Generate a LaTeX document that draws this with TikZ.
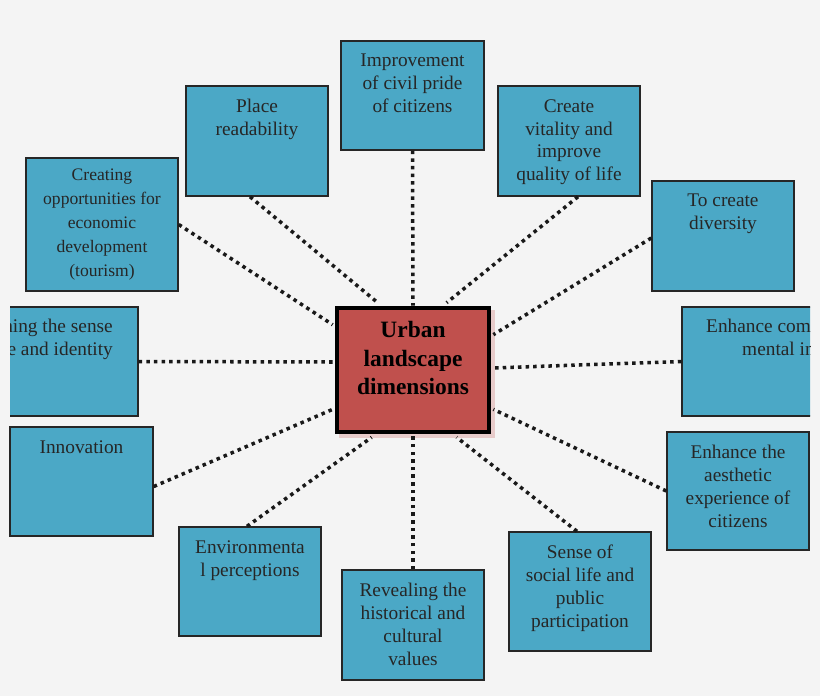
\documentclass[tikz,border=0pt]{standalone}
\usepackage{fontspec}
\setmainfont{Liberation Serif}
\usetikzlibrary{calc}
\definecolor{bg}{HTML}{F4F4F4}
\definecolor{teal}{HTML}{4BA8C6}
\definecolor{redbox}{HTML}{C0504D}
\tikzset{
  box/.style={draw=black!85, line width=1.2pt, fill=teal, inner sep=0pt},
  txt/.style={font=\fontsize{16.5}{19.6}\selectfont, align=center, inner sep=0pt, text=black!85},
  conn/.style={line width=3pt, dash pattern=on 3pt off 3.5pt, black!90},
}
\newcommand{\bx}[6]{% name, x1, y1, x2, y2, text
  \node[box, minimum width={(#4-#2)*0.03cm}, minimum height={(#5-#3)*0.03cm}] (#1) at ({(#2+#4)/2},{(#3+#5)/2}) {};
  \node[txt, anchor=north] (#1t) at ({(#2+#4)/2},{#3+13}) {#6};}
\begin{document}
\begin{tikzpicture}[x=0.03cm,y=-0.03cm]
\fill[bg] (0,0) rectangle (820,696);
\useasboundingbox (0,0) rectangle (820,696);
% center
\fill[redbox!25!bg] (339,310) rectangle (495,438);
\node[draw=black, line width=4pt, fill=redbox, minimum width={152*0.03cm}, minimum height={124*0.03cm}] (c) at (413,370) {};
\node[font=\fontsize{20}{24}\bfseries\selectfont, align=center, inner sep=0pt] (ct) at (413,358) {Urban\\landscape\\dimensions};
% boxes
\bx{b1}{341}{41}{484}{150}{Improvement\\of civil pride\\of citizens}
\bx{b2}{186}{86}{328}{196}{Place\\readability}
\bx{b3}{498}{86}{640}{196}{Create\\vitality and\\improve\\quality of life}
\node[box, minimum width={152*0.03cm}, minimum height={133*0.03cm}] (b4) at (102,224.5) {};
\node[txt, anchor=north, font=\fontsize{15}{20.5}\selectfont] (b4t) at (102,169) {Creating\\opportunities for\\economic\\development\\(tourism)};
\bx{b5}{652}{181}{794}{291}{To create\\diversity}
\bx{b7}{10}{427}{153}{536}{Innovation}
\bx{b9}{667}{432}{809}{550}{Enhance the\\aesthetic\\experience of\\citizens}
\bx{b10}{179}{527}{321}{636}{Environmenta\\l perceptions}
\bx{b11}{342}{570}{484}{680}{Revealing the\\historical and\\cultural\\values}
\bx{b12}{509}{532}{651}{651}{Sense of\\social life and\\public\\participation}
% clipped boxes
\begin{scope}
\clip (10,0) rectangle (810,696);
\node[box, minimum width={148*0.03cm}, minimum height={109*0.03cm}] (b6) at (64,361.5) {};
\node[txt, anchor=north east, align=right] (b6t) at (113,319) {Strengthening the sense\\of place and identity};
\node[box, minimum width={148*0.03cm}, minimum height={109*0.03cm}] (b8) at (756,361.5) {};
\node[txt, anchor=north west, align=left] (b8t) at (706,319) {Enhance common};
\node[txt, anchor=north west, align=left] (b8u) at (742,342) {mental image};
\end{scope}
% connectors
\draw[conn] (b1.south) -- (c.north);
\draw[conn] ($(b2.south)+(-7,0)$) -- ($(c.north west)+(43,-3)$);
\draw[conn] ($(b3.south)+(9,0)$) -- ($(c.north west)+(112,-3)$);
\draw[conn] (b4.east) -- ($(c.north west)+(-2,19)$);
\draw[conn] ($(b5.west)+(0,2)$) -- ($(c.north east)+(2,29)$);
\draw[conn] (b6.east) -- ($(c.west)+(0,-8)$);
\draw[conn] (b8.west) -- ($(c.east)+(0,-2)$);
\draw[conn] ($(b7.east)+(0,5)$) -- ($(c.south west)+(-2,-25)$);
\draw[conn] (b9.west) -- ($(c.south east)+(2,-25)$);
\draw[conn] ($(b10.north)+(-3,0)$) -- ($(c.south west)+(37,3)$);
\draw[conn] (b11.north) -- (c.south);
\draw[conn] ($(b12.north)+(-3,0)$) -- ($(c.south west)+(122,3)$);
\end{tikzpicture}
\end{document}
